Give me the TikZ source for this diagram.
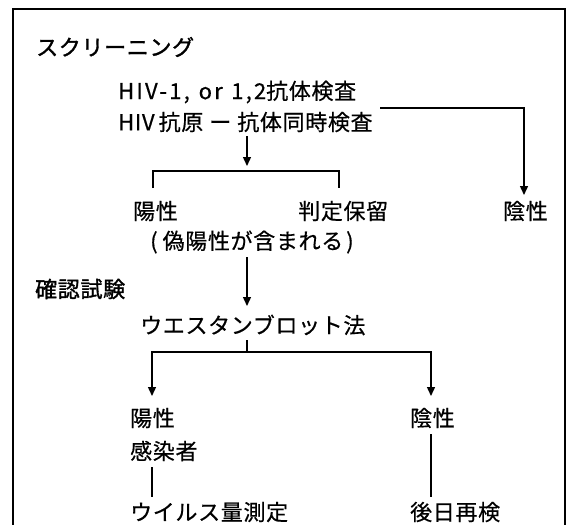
\documentclass[tikz,border=0pt]{standalone}
\usepackage{fontspec}
\setmainfont[LetterSpace=3,FakeBold=0.5]{Noto Sans CJK JP}
\newfontfamily\latn[LetterSpace=10,FakeBold=0.5]{Noto Sans CJK JP}
\newfontfamily\heavy[LetterSpace=3,FakeBold=1.4]{Noto Sans CJK JP}
\usetikzlibrary{arrows.meta}
\begin{document}
\begin{tikzpicture}[x=1pt,y=-1pt,
  lbl/.style={anchor=west,inner sep=0pt,font=\fontsize{22}{24}\selectfont},
  conn/.style={line width=1.4pt,draw=black},
  arr/.style={conn,-{Triangle[width=8pt,length=9pt]}}]
\useasboundingbox (0,0) rectangle (568,525);
% frame
\draw[line width=1.4pt] (13,525) -- (13,9) -- (565,9) -- (565,525);
% texts
\node[lbl,font=\fontsize{22}{24}\heavy] (scr) at (36,47) {スクリーニング};
\node[lbl] (hiv1) at (118,92) {\makebox[148pt][s]{\latn HIV-1, or 1,2}抗体検査};
\node[lbl] (hiv2) at (118,122) {HIV\hspace{4pt}抗原\hspace{6pt}ー\hspace{6pt}抗体同時検査};
\node[lbl] (pos1) at (133,211) {陽性};
\node[lbl] (hold) at (298,211) {判定保留};
\node[lbl] (neg1) at (503,211) {陰性};
\node[lbl] (fp) at (150,242) {(\hspace{5pt}偽陽性が含まれる\hspace{3pt})};
\node[lbl,font=\fontsize{22}{24}\heavy] (conf) at (35,289) {確認試験};
\node[lbl] (wb) at (140,325) {ウエスタンブロット法};
\node[lbl] (pos2) at (130,418) {陽性};
\node[lbl] (inf) at (130,451) {感染者};
\node[lbl] (vl) at (130,512) {ウイルス量測定};
\node[lbl] (neg2) at (410,418) {陰性};
\node[lbl] (retest) at (410,512) {後日再検};
% coordinates
\coordinate (rA) at (380,108);
\coordinate (rB) at (524,108);
\coordinate (rC) at (524,195);
\coordinate (a1s) at (247,136);
\coordinate (a1e) at (247,166);
\coordinate (bL) at (153,171);
\coordinate (bR) at (339,171);
\coordinate (bLd) at (153,188);
\coordinate (bRd) at (339,188);
\coordinate (a2s) at (247,257);
\coordinate (a2e) at (247,306);
\coordinate (c1) at (247,340);
\coordinate (c2) at (247,352);
\coordinate (hL) at (152,352);
\coordinate (hR) at (431,352);
\coordinate (hLd) at (152,396);
\coordinate (hRd) at (431,396);
\coordinate (v1s) at (152,467);
\coordinate (v1e) at (152,497);
\coordinate (v2s) at (431,434);
\coordinate (v2e) at (431,497);
% connectors
\draw[arr] (rA) -- (rB) -- (rC);
\draw[arr] (a1s) -- (a1e);
\draw[conn] (bLd) -- (bL) -- (bR) -- (bRd);
\draw[arr] (a2s) -- (a2e);
\draw[conn] (c1) -- (c2);
\draw[arr] (c2) -- (hL) -- (hLd);
\draw[arr] (c2) -- (hR) -- (hRd);
\draw[conn] (v1s) -- (v1e);
\draw[conn] (v2s) -- (v2e);
\end{tikzpicture}
\end{document}
